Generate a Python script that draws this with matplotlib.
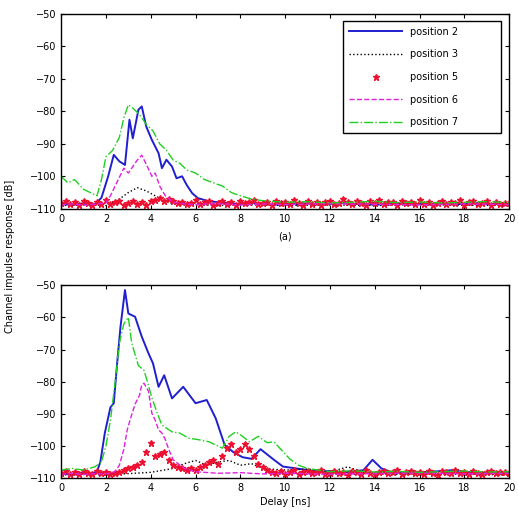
import matplotlib
matplotlib.use("Agg")
import matplotlib.pyplot as plt
import numpy as np

# ---- (a) top panel ----
blue_a_x = [0, 0.5, 1.0, 1.5, 1.8, 2.1, 2.35, 2.6, 2.85, 3.05, 3.2, 3.45, 3.6, 3.8, 4.05, 4.35, 4.5,
            4.7, 4.95, 5.15, 5.4, 5.6, 5.85, 6.1, 6.5, 7.0, 7.5, 8.0, 8.5, 9.0, 9.5, 10.0, 10.5, 11.0,
            11.5, 12.0, 12.5, 13.0, 13.5, 14.0, 14.5, 15.0, 15.5, 16.0, 16.5, 17.0, 17.5, 18.0, 18.5,
            19.0, 19.5, 20.0]
blue_a_y = [-108.5, -108.8, -108.3, -108.7, -106.6, -100, -93.4, -95.4, -96.5, -82.6, -88.3, -79.5,
            -78.5, -84.7, -88.8, -92.9, -97.5, -94.9, -97, -100.6, -100, -102.6, -105.2, -106.7,
            -107.5, -108, -108.3, -108.6, -108.2, -108.5, -108.8, -108.4, -108.6, -108.3, -108.7,
            -108.5, -108.2, -108.6, -108.4, -108.8, -108.5, -108.3, -108.6, -108.5, -108.7, -108.4,
            -108.6, -108.5, -108.3, -108.6, -108.5, -108.4]

black_a_x = [0, 1.0, 2.0, 2.5, 3.0, 3.4, 3.8, 4.2, 4.6, 5.0, 6.0, 7.0, 8.0, 10.0, 12.0, 14.0, 16.0,
             18.0, 20.0]
black_a_y = [-109, -108.8, -109, -107.5, -105, -103.5, -104.5, -106, -107.5, -108.5, -108.8, -109,
             -108.7, -109, -108.8, -109, -108.7, -108.9, -109]

red_a_y = [-108.2, -107.6, -108.5, -107.9, -108.8, -107.5, -108.1, -108.9, -107.8, -108.4,
           -107.3, -108.6, -108.0, -107.7, -108.7, -108.2, -107.5, -108.4, -107.9, -108.8,
           -107.6, -107.2, -106.8, -107.5, -107.0, -107.6, -108.3, -107.8, -108.6, -108.1,
           -107.4, -108.5, -108.0, -107.7, -108.9, -108.2, -107.6, -108.4, -107.9, -108.7,
           -107.5, -108.3, -108.0, -107.4, -108.6, -108.1, -107.8, -108.9, -107.6, -108.3,
           -107.9, -108.5, -107.3, -108.2, -108.7, -107.7, -108.4, -107.9, -108.8, -108.0,
           -107.5, -108.6, -108.2, -107.1, -107.8, -108.5, -107.6, -108.3, -108.9, -107.7,
           -108.1, -107.4, -108.6, -108.0, -107.8, -108.7, -107.5, -108.3, -107.9, -108.5,
           -107.2, -108.4, -107.8, -108.8, -108.1, -107.6, -108.5, -107.9, -108.3, -107.4,
           -108.7, -108.0, -107.7, -108.5, -108.2, -107.6, -108.8, -107.9, -108.4, -108.1,
           -108.3]

magenta_a_x = [0, 0.5, 1.0, 1.5, 2.0, 2.2, 2.55, 2.8, 3.0, 3.2, 3.4, 3.6, 3.85, 4.05, 4.2, 4.4,
               4.65, 5.0, 5.5, 6.0, 7.0, 8.0, 9.0, 10.0, 12.0, 14.0, 16.0, 18.0, 20.0]
magenta_a_y = [-108.8, -108.5, -108.9, -108.6, -108.2, -106, -101, -97.5, -99, -97, -95, -93.5,
               -97, -100, -99, -103, -106, -108, -108.5, -108.7, -108.4, -108.8, -108.5, -108.7,
               -108.4, -108.6, -108.8, -108.5, -108.7]

green_a_x = [0, 0.3, 0.6, 1.0, 1.3, 1.6, 1.8, 2.0, 2.3, 2.6, 2.8, 3.0, 3.2, 3.5, 3.8, 4.1, 4.4,
             4.7, 5.0, 5.3, 5.6, 6.0, 6.4, 6.8, 7.2, 7.6, 8.0, 8.5, 9.0, 10.0, 11.0, 12.0, 13.0,
             14.0, 15.0, 16.0, 17.0, 18.0, 19.0, 20.0]
green_a_y = [-100, -102, -101, -104, -105, -106, -101, -94, -92, -88, -82, -78, -79, -81, -84, -86,
             -90, -92, -95, -96, -98, -99, -101, -102, -103, -105, -106, -107, -107.5, -108,
             -107.8, -108.2, -108, -107.7, -108.1, -107.9, -108.2, -108, -107.8, -108.1]

# ---- (b) bottom panel ----
blue_b_x = [0, 0.5, 1.0, 1.3, 1.6, 1.75, 1.95, 2.2, 2.35, 2.5, 2.65, 2.85, 3.0, 3.3, 3.6, 3.9, 4.1,
            4.35, 4.6, 4.95, 5.45, 6.0, 6.5, 6.9, 7.3, 7.7, 8.1, 8.5, 8.9, 9.5, 9.9, 10.5, 11.0,
            11.5, 12.0, 12.5, 13.0, 13.5, 13.9, 14.3, 14.7, 15.0, 15.5, 16.0, 16.5, 17.0, 17.5,
            18.0, 18.5, 19.0, 19.5, 20.0]
blue_b_y = [-108.5, -109, -108.3, -108.7, -108, -105, -96, -88, -86.7, -74.3, -62.9, -51.5, -58.8,
            -59.8, -66, -71.2, -74.3, -81.6, -78, -85.2, -81.6, -86.7, -85.7, -91.4, -99.7, -102,
            -103.5, -104, -101, -104.3, -106.4, -107, -107.5, -108, -107.8, -108.2, -108, -107.5,
            -104.3, -107, -108, -108.3, -108.5, -108.2, -108, -107.8, -107.5, -108, -108.5,
            -108.2, -108.4, -108.5]

black_b_x = [0, 1.0, 2.0, 3.0, 4.0, 5.0, 5.5, 6.0, 6.5, 7.0, 7.5, 8.0, 8.5, 9.0, 10.0, 11.0, 12.0,
             12.8, 13.5, 14.0, 15.0, 16.0, 17.0, 18.0, 19.0, 20.0]
black_b_y = [-109, -108.8, -109, -108.6, -108.2, -107, -105.5, -104.5, -106, -105, -104.5, -106,
             -105.5, -107, -107.5, -107.2, -108, -106.5, -108.2, -108.5, -108.8, -108.6, -108.9,
             -108.7, -108.9, -109]

red_b_y = [-108.4, -107.8, -108.6, -108.0, -108.8, -107.9, -108.3, -108.7, -107.7, -108.5,
           -108.1, -108.6, -108.3, -108.0, -107.5, -107.0, -106.5, -106.0, -105.0, -102.0,
           -99.0, -103.0, -102.5, -102.0, -104.5, -106.0, -106.5, -107.0, -107.5, -107.0,
           -107.5, -106.5, -106.0, -105.0, -104.5, -105.5, -103.0, -100.5, -99.5, -102.0,
           -101.0, -99.5, -101.0, -103.0, -105.5, -106.5, -107.5, -108.0, -108.4, -107.8,
           -108.6, -108.1, -107.6, -108.7, -108.2, -107.9, -108.5, -108.0, -107.6, -108.8,
           -108.3, -107.7, -108.4, -108.0, -108.9, -107.8, -108.2, -108.6, -107.5, -108.3,
           -108.7, -108.0, -107.9, -108.5, -108.2, -107.6, -108.8, -108.1, -107.7, -108.4,
           -108.0, -108.6, -107.8, -108.3, -108.9, -107.9, -108.2, -108.5, -107.6, -108.4,
           -108.0, -108.7, -107.8, -108.3, -108.6, -108.1, -107.7, -108.5, -108.2, -108.0,
           -108.4]

magenta_b_x = [0, 0.5, 1.0, 1.5, 2.0, 2.4, 2.6, 2.8, 2.95, 3.1, 3.3, 3.5, 3.6, 3.7, 3.9, 4.05, 4.2,
               4.35, 4.5, 4.65, 4.8, 5.0, 5.5, 6.0, 7.0, 8.0, 9.0, 10.0, 12.0, 14.0, 16.0, 18.0,
               20.0]
magenta_b_y = [-108.8, -108.5, -108.9, -108.6, -108.7, -108, -106, -101, -95, -91.4, -87, -84.2,
               -81, -80.5, -83, -89.8, -92, -95, -96, -98, -101, -104.3, -107, -108, -108.5,
               -108.3, -108.7, -108.5, -108.8, -108.6, -108.4, -108.7, -108.5]

green_b_x = [0, 0.5, 1.0, 1.5, 1.8, 2.0, 2.2, 2.45, 2.6, 2.8, 3.0, 3.15, 3.45, 3.7, 3.85, 4.05,
             4.3, 4.5, 4.95, 5.3, 5.7, 6.1, 6.6, 7.2, 7.5, 7.8, 8.1, 8.4, 8.8, 9.2, 9.5, 9.8, 10.2,
             10.6, 11.0, 11.5, 12.0, 13.0, 14.0, 15.0, 16.0, 17.0, 18.0, 19.0, 20.0]
green_b_y = [-107.5, -107, -107.5, -106.5, -105, -100, -92, -78, -68, -62, -60, -68, -75, -76.5,
             -80, -85, -90, -93.5, -95.6, -96, -97.6, -98, -98.7, -100.7, -97, -95.6, -97, -98.7,
             -97, -99, -98.7, -101, -104, -106, -107, -107.5, -108, -107.7, -108.1, -107.9,
             -108.2, -108, -107.8, -108.1, -108]

red_x = np.arange(0, 20.01, 0.2)

labels = ["position 2", "position 3", "position 5", "position 6", "position 7"]


def draw_panel(ax, blue, black, red_y, magenta, green):
	ax.plot(blue[0], blue[1], "-", color="#1f1fd0", lw=1.4, label=labels[0])
	ax.plot(black[0], black[1], ":", color="black", lw=1.0, label=labels[1])
	ax.plot(red_x, red_y, "*", color="#ee1030", ms=4.5, label=labels[2])
	ax.plot(magenta[0], magenta[1], "--", color="#e020e0", lw=1.0, label=labels[3])
	ax.plot(green[0], green[1], "-.", color="#20d020", lw=1.0, label=labels[4])

	ax.set_xlim(0, 20)
	ax.set_ylim(-110, -50)
	ax.set_xticks(np.arange(0, 21, 2))
	ax.set_yticks(np.arange(-110, -49, 10))
	ax.tick_params(direction="in", top=True, right=True, labelsize=7, length=3)
	for sp in ax.spines.values():
		sp.set_linewidth(1.0)
#end_def


fig = plt.figure(figsize=(5.18, 5.13), dpi=100)
ax1 = fig.add_axes([0.118, 0.593, 0.865, 0.380])
ax2 = fig.add_axes([0.118, 0.068, 0.865, 0.376])

draw_panel(ax1, (blue_a_x, blue_a_y), (black_a_x, black_a_y), red_a_y,
           (magenta_a_x, magenta_a_y), (green_a_x, green_a_y))
draw_panel(ax2, (blue_b_x, blue_b_y), (black_b_x, black_b_y), red_b_y,
           (magenta_b_x, magenta_b_y), (green_b_x, green_b_y))

ax1.set_xlabel("(a)", fontsize=7, labelpad=6)
ax2.set_xlabel("Delay [ns]", fontsize=7, labelpad=3)

leg = ax1.legend(loc="upper left", fontsize=7, handlelength=5.5, labelspacing=1.3,
                 fancybox=False, edgecolor="black", framealpha=1, borderpad=0.6,
                 bbox_to_anchor=(0.629, 0.4, 0.353, 0.564), mode="expand", borderaxespad=0)
leg.get_frame().set_linewidth(1.0)

fig.text(0.02, 0.5, "Channel impulse response [dB]", rotation=90, fontsize=7,
         ha="center", va="center")

fig.savefig("out.png", dpi=100)
